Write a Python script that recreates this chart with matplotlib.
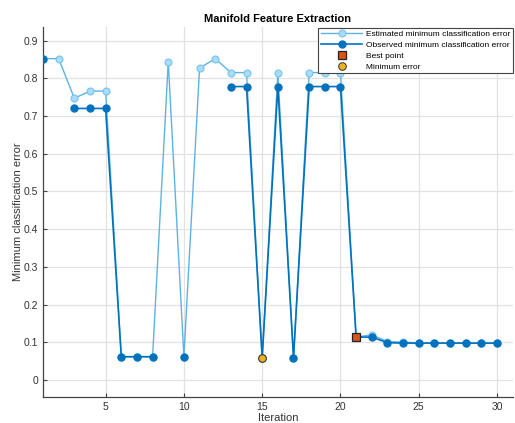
import numpy as np
import matplotlib.pyplot as plt

plt.rcParams['font.family'] = ['Liberation Sans', 'DejaVu Sans']

iterations = np.arange(1, 31)

# estimated minimum classification error (model prediction)
estimated = [0.852, 0.852, 0.747, 0.766, 0.766, 0.062, 0.062, 0.062, 0.844, 0.062,
             0.827, 0.852, 0.815, 0.815, 0.059, 0.815, 0.059, 0.815, 0.815, 0.815,
             0.114, 0.120, 0.102, 0.101, 0.098, 0.098, 0.098, 0.098, 0.098, 0.098]

# observed minimum classification error, nan where no evaluation was kept
observed = [0.852, np.nan, 0.720, 0.720, 0.720, 0.062, 0.062, 0.062, np.nan, 0.062,
            np.nan, np.nan, 0.778, 0.778, 0.059, 0.778, 0.059, 0.778, 0.778, 0.778,
            0.114, 0.114, 0.099, 0.098, 0.098, 0.098, 0.098, 0.098, 0.098, 0.098]

best_iter = 21
best_value = 0.114
min_iter = 15
min_value = 0.059

y_ticks = [0, 0.1, 0.2, 0.3, 0.4, 0.5, 0.6, 0.7, 0.8, 0.9]
x_ticks = [5, 10, 15, 20, 25, 30]

fig = plt.figure(figsize=(5.15, 4.23), dpi=100)
ax = fig.add_axes([0.0835, 0.0622, 0.912, 0.875])

ax.plot(iterations, estimated, '-o', color='#5cb3e6', lw=1.0,
        markersize=5.0, markerfacecolor='#a9dcf8', markeredgecolor='#78c4ee',
        markeredgewidth=0.8, label='Estimated minimum classification error', zorder=3)
ax.plot(iterations, observed, '-o', color='#0072BD', lw=1.2,
        markersize=5.0, markerfacecolor='#0072BD', markeredgecolor='#0072BD',
        label='Observed minimum classification error', zorder=4)
ax.plot([best_iter], [best_value], 's', color='#D95319', markersize=6,
        markeredgecolor='#222222', markeredgewidth=0.9, linestyle='none',
        label='Best point', zorder=6)
ax.plot([min_iter], [min_value], 'o', color='#EDB120', markersize=5.5,
        markeredgecolor='#333333', markeredgewidth=0.7, linestyle='none',
        label='Minimum error', zorder=6)

ax.set_xlim(1, 31)
ax.set_ylim(-0.044, 0.937)
ax.set_xticks(x_ticks)
ax.set_yticks(y_ticks)
ax.set_yticklabels(['0'] + [f'{v:.1f}' for v in y_ticks[1:]])

ax.grid(True, color='#e2e2e2', lw=0.9)
ax.set_axisbelow(True)
for side in ['top', 'right']:
    ax.spines[side].set_visible(False)
for side in ['left', 'bottom']:
    ax.spines[side].set_color('#444444')
    ax.spines[side].set_linewidth(0.9)
ax.tick_params(direction='in', length=3, width=0.8, colors='#444444',
               labelsize=7.5, labelcolor='#333333')

ax.set_title('Manifold Feature Extraction', fontsize=8, fontweight='bold', pad=3)
ax.set_xlabel('Iteration', fontsize=8, color='#333333', labelpad=1)
ax.set_ylabel('Minimum classification error', fontsize=8, color='#333333', labelpad=0.5)

leg = ax.legend(loc='upper right', bbox_to_anchor=(1.0, 0.997), fontsize=6,
                frameon=True, fancybox=False, framealpha=1, edgecolor='#444444',
                handlelength=5.0, borderpad=0.3, labelspacing=0.37,
                handletextpad=0.4, borderaxespad=0.0)
leg.get_frame().set_linewidth(0.8)

fig.savefig('out.png', dpi=100)
